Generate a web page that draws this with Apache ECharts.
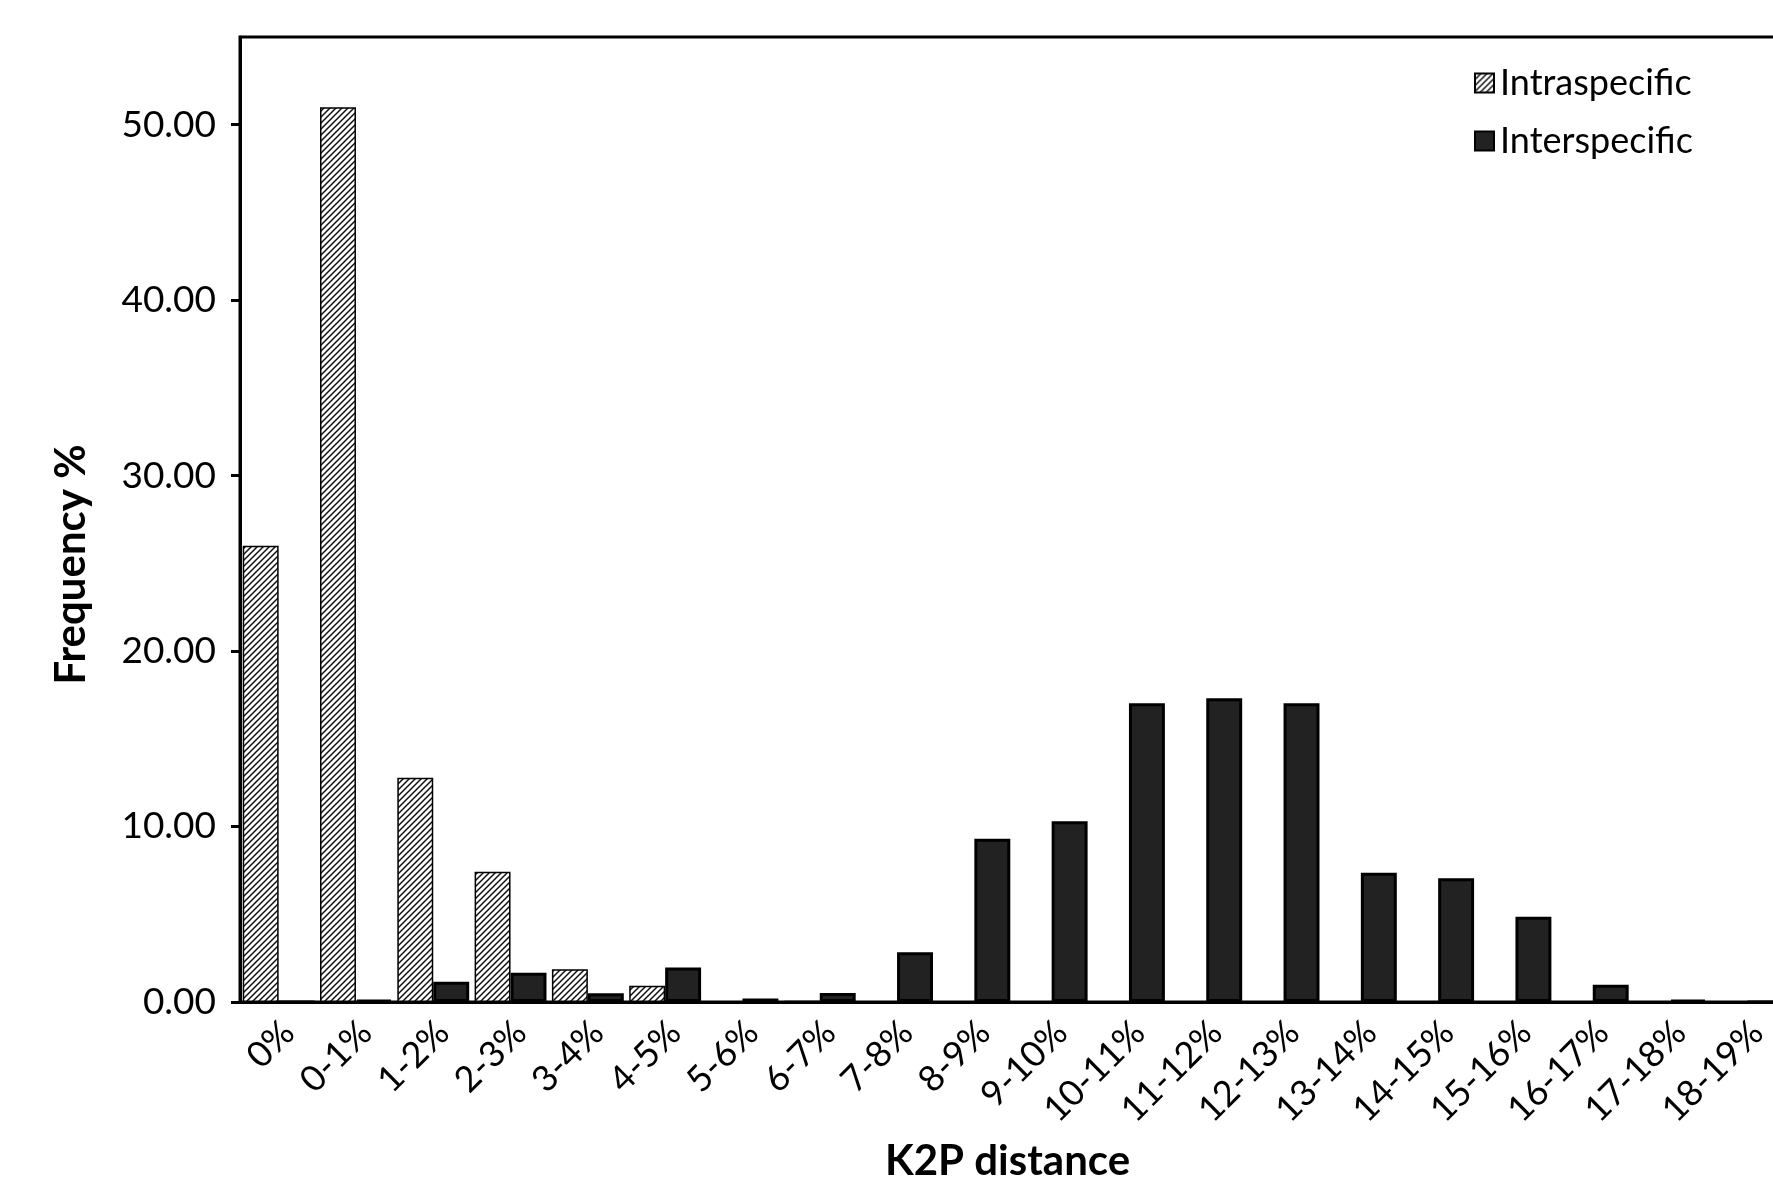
<!DOCTYPE html>
<html><head><meta charset="utf-8">
<script src="https://cdn.jsdelivr.net/npm/echarts@6/dist/echarts.min.js"></script>
<style>html,body{margin:0;padding:0;background:#fff}#c{width:1773px;height:1182px}</style>
</head><body><div id="c"></div>
<script>
const categories = ['0%','0-1%','1-2%','2-3%','3-4%','4-5%','5-6%','6-7%','7-8%','8-9%','9-10%','10-11%','11-12%','12-13%','13-14%','14-15%','15-16%','16-17%','17-18%','18-19%'];
const intraspecific = [26.0, 51.0, 12.78, 7.42, 1.86, 0.92, 0, 0.07, 0, 0, 0, 0, 0, 0, 0, 0, 0, 0, 0, 0];
const interspecific = [0, 0.1, 1.15, 1.67, 0.5, 1.96, 0.2, 0.51, 2.84, 9.3, 10.3, 17.03, 17.31, 17.03, 7.37, 7.05, 4.86, 0.99, 0.11, 0];
const yTicks = [0, 10, 20, 30, 40, 50];
const seriesNames = ['Intraspecific', 'Interspecific'];

function hatch(){
  const s = 6;
  const c = document.createElement('canvas'); c.width = s; c.height = s;
  const g = c.getContext('2d');
  g.fillStyle = '#fff'; g.fillRect(0,0,s,s);
  g.strokeStyle = '#111'; g.lineWidth = 1.5;
  g.beginPath();
  g.moveTo(-2, s+2); g.lineTo(s+2, -2);
  g.moveTo(-2, 2); g.lineTo(2, -2);
  g.moveTo(s-2, s+2); g.lineTo(s+2, s-2);
  g.stroke();
  return c;
}

const chart = echarts.init(document.getElementById('c'), null, {renderer:'canvas'});
const font = 'Lato';
chart.setOption({
  animation: false,
  backgroundColor: '#fff',
  textStyle: {fontFamily: font, color: '#000'},
  grid: {left: 240, top: 37, width: 1546, height: 965, outerBoundsMode: 'none', containLabel: false,
         show: true, borderColor: '#000', borderWidth: 3, backgroundColor: 'transparent'},
  legend: {
    orient: 'vertical', left: 1469, top: 60, itemWidth: 19, itemHeight: 19, itemGap: 22,
    icon: 'rect', data: seriesNames,
    textStyle: {fontSize: 36, color: '#000', fontFamily: font, padding: [0,0,0,1]}
  },
  xAxis: {
    type: 'category', data: categories,
    name: 'K2P distance', nameLocation: 'middle', nameGap: 138, nameMoveOverlap: false,
    nameTextStyle: {fontSize: 42, fontWeight: 'bold', color: '#000', fontFamily: font, padding: [0, 11, 0, 0]},
    axisLine: {lineStyle: {color: '#000', width: 3}},
    axisTick: {length: 10, lineStyle: {color: '#000', width: 3}},
    axisLabel: {rotate: 45, fontSize: 36, color: '#000', margin: 15, interval: 0, fontFamily: font, verticalAlign: 'top', lineHeight: 28}
  },
  yAxis: {
    type: 'value', min: 0, max: 55, interval: 10,
    name: 'Frequency %', nameLocation: 'middle', nameRotate: 90, nameGap: 148,
    nameTextStyle: {fontSize: 42, fontWeight: 'bold', color: '#000', fontFamily: font, padding: [0, 90, 0, 0]},
    axisLine: {show: true, lineStyle: {color: '#000', width: 3}},
    axisTick: {show: true, length: 9, lineStyle: {color: '#000', width: 3}, customValues: yTicks},
    splitLine: {show: false},
    axisLabel: {fontSize: 37, color: '#000', margin: 24, fontFamily: font, customValues: yTicks, formatter: v => v.toFixed(2)}
  },
  series: [
    {name: seriesNames[0], type: 'bar', data: intraspecific, barGap: '0%', barCategoryGap: '7%',
     itemStyle: {color: {image: hatch(), repeat: 'repeat'}, borderColor: '#000', borderWidth: 1.5}},
    {name: seriesNames[1], type: 'bar', data: interspecific, barGap: '0%', barCategoryGap: '7%',
     itemStyle: {color: '#222', borderColor: '#000', borderWidth: 3}}
  ]
});
</script></body></html>
